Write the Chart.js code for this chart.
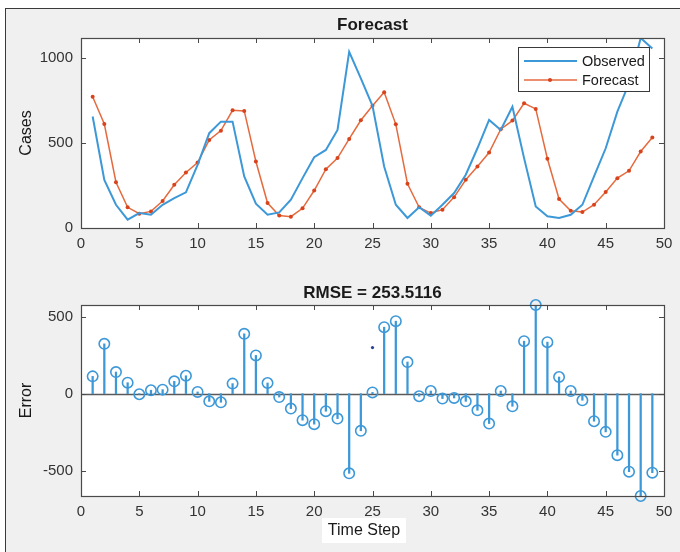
<!DOCTYPE html>
<html>
<head>
<meta charset="utf-8">
<script src="https://cdn.jsdelivr.net/npm/chart.js@4.4.1/dist/chart.umd.min.js"></script>
<style>
html,body{margin:0;padding:0;background:#fff;width:680px;height:552px;overflow:hidden;}
#frame{position:absolute;left:5px;top:8px;width:700px;height:560px;background:#f0f0f0;border-left:1.5px solid #3a3a3a;border-top:1.5px solid #3a3a3a;}
#c1{position:absolute;left:0;top:0;}
#c2{position:absolute;left:0;top:270px;}
</style>
</head>
<body>
<div id="frame"></div>
<canvas id="c1" width="680" height="270"></canvas>
<canvas id="c2" width="680" height="282"></canvas>
<script>
// ---------- data ----------
const timeSteps = [1,2,3,4,5,6,7,8,9,10,11,12,13,14,15,16,17,18,19,20,21,22,23,24,25,26,27,28,29,30,31,32,33,34,35,36,37,38,39,40,41,42,43,44,45,46,47,48,49];
const observed = [657,284,137,49,88,78,137,176,210,372,559,627,627,304,143,78,92,167,294,417,460,578,1039,882,720,363,137,59,122,73,137,206,314,470,637,578,715,412,127,69,59,78,137,304,470,686,853,1120,1058];
const forecast = [774,613,270,122,84,98,159,255,327,386,519,574,694,690,392,147,74,67,116,221,347,412,525,635,721,800,611,261,122,88,108,182,284,363,445,582,633,735,702,408,171,102,94,137,212,294,337,451,533];
const errors = [112,323,140,71,-4,22,26,80,116,11,-50,-56,65,388,248,69,-22,-97,-172,-198,-114,-162,-517,-241,8,431,470,205,-17,17,-32,-28,-50,-108,-194,17,-82,340,575,334,108,17,-43,-179,-248,-399,-506,-664,-513];
const strayX = [25];
const strayY = [299];
const xTicks = [0,5,10,15,20,25,30,35,40,45,50];
const casesTicks = [0,500,1000];
const errorTicks = [-500,0,500];
const seriesNames = ['Observed','Forecast'];
const topTitle = 'Forecast';
const rmseTitle = 'RMSE = 253.5116';
const xLabel = 'Time Step';

// ---------- styles ----------
const BLUE = '#3d98d8';
const RED = '#e56a3e';
const RED_DOT = '#d8431c';
const AXIS = '#4a4a4a';
const TXT = '#333333';
const FONT = '"Liberation Sans", Arial, Helvetica, sans-serif';

Chart.defaults.font.family = FONT;
Chart.defaults.color = TXT;

const pts = (xs, ys) => xs.map((x, i) => ({x: x, y: ys[i]}));

const panelPlugin = {
  id: 'panel',
  beforeDraw(chart, args, opts) {
    const {ctx, chartArea: a} = chart;
    ctx.save();
    ctx.fillStyle = '#ffffff';
    ctx.fillRect(a.left, a.top, a.right - a.left, a.bottom - a.top);
    ctx.restore();
  },
  beforeDatasetsDraw(chart, args, opts) {
    if (!opts.baseline) return;
    const {ctx, chartArea: a, scales} = chart;
    const y0 = Math.round(scales.y.getPixelForValue(0)) + 0.5;
    ctx.save();
    ctx.strokeStyle = '#5a5a5a';
    ctx.lineWidth = 1.5;
    ctx.beginPath();
    ctx.moveTo(a.left, y0);
    ctx.lineTo(a.right, y0);
    ctx.stroke();
    ctx.restore();
  },
  afterDraw(chart, args, opts) {
    const {ctx, chartArea: a, scales} = chart;
    ctx.save();
    // inward ticks
    ctx.strokeStyle = AXIS;
    ctx.lineWidth = 1;
    ctx.beginPath();
    scales.x.ticks.forEach(t => {
      const px = Math.round(scales.x.getPixelForValue(t.value)) + 0.5;
      ctx.moveTo(px, a.bottom); ctx.lineTo(px, a.bottom - 5);
      ctx.moveTo(px, a.top); ctx.lineTo(px, a.top + 5);
    });
    scales.y.ticks.forEach(t => {
      const py = Math.round(scales.y.getPixelForValue(t.value)) + 0.5;
      ctx.moveTo(a.left, py); ctx.lineTo(a.left + 5, py);
      ctx.moveTo(a.right, py); ctx.lineTo(a.right - 5, py);
    });
    ctx.stroke();
    // box
    ctx.lineWidth = 1.2;
    ctx.strokeStyle = AXIS;
    ctx.strokeRect(Math.round(a.left) + 0.5, Math.round(a.top) + 0.5, Math.round(a.right - a.left), Math.round(a.bottom - a.top));
    // title
    if (opts.title) {
      ctx.fillStyle = '#1a1a1a';
      ctx.font = 'bold 17px ' + FONT;
      ctx.textAlign = 'center';
      ctx.textBaseline = 'alphabetic';
      ctx.fillText(opts.title, (a.left + a.right) / 2, opts.titleY);
    }
    // x label with white patch
    if (opts.xlabel) {
      ctx.fillStyle = '#ffffff';
      ctx.fillRect(opts.xlabelX - 42, opts.xlabelY - 13, 84, 25);
      ctx.fillStyle = '#1a1a1a';
      ctx.font = '16px ' + FONT;
      ctx.textAlign = 'center';
      ctx.textBaseline = 'middle';
      ctx.fillText(opts.xlabel, opts.xlabelX, opts.xlabelY);
    }
    // legend
    if (opts.legend) {
      const L = opts.legend;
      ctx.fillStyle = '#ffffff';
      ctx.fillRect(L.x, L.y, L.w, L.h);
      ctx.strokeStyle = '#3a3a3a';
      ctx.lineWidth = 1;
      ctx.strokeRect(L.x + 0.5, L.y + 0.5, L.w, L.h);
      chart.data.datasets.forEach((ds, i) => {
        const yy = L.y + 14 + i * 19;
        ctx.strokeStyle = ds.borderColor;
        ctx.lineWidth = ds.borderWidth;
        ctx.beginPath();
        ctx.moveTo(L.x + 6, yy); ctx.lineTo(L.x + 59, yy);
        ctx.stroke();
        if (ds.pointRadius > 0) {
          ctx.fillStyle = ds.pointBackgroundColor;
          ctx.beginPath();
          ctx.arc(L.x + 32, yy, ds.pointRadius, 0, Math.PI * 2);
          ctx.fill();
        }
        ctx.fillStyle = '#1a1a1a';
        ctx.font = '14.5px ' + FONT;
        ctx.textAlign = 'left';
        ctx.textBaseline = 'middle';
        ctx.fillText(ds.label, L.x + 64, yy + 1);
      });
    }
    ctx.restore();
  }
};

const plainNum = v => String(v);

function xScale() {
  return {
    type: 'linear',
    min: 0, max: 50,
    offset: false,
    afterBuildTicks: s => { s.ticks = xTicks.map(v => ({value: v})); },
    afterFit: s => { s.height = 30; },
    grid: {display: false, drawTicks: false, offset: false},
    border: {display: false},
    ticks: {padding: 7, font: {size: 15}, color: TXT, maxRotation: 0, autoSkip: false, callback: plainNum}
  };
}

function yScale(min, max, tickVals, title) {
  return {
    type: 'linear',
    min: min, max: max,
    afterBuildTicks: s => { s.ticks = tickVals.map(v => ({value: v})); },
    afterFit: s => { s.width = 81; },
    grid: {display: false, drawTicks: false},
    border: {display: false},
    ticks: {padding: 8, font: {size: 15}, color: TXT, callback: plainNum},
    title: {display: true, text: title, font: {size: 16}, color: '#1a1a1a', padding: {top: 17, bottom: 0}}
  };
}

// ---------- top chart ----------
new Chart(document.getElementById('c1'), {
  type: 'line',
  data: {
    datasets: [
      {label: seriesNames[0], data: pts(timeSteps, observed), borderColor: BLUE, borderWidth: 2, pointRadius: 0, tension: 0, fill: false},
      {label: seriesNames[1], data: pts(timeSteps, forecast), borderColor: RED, borderWidth: 1.5, pointRadius: 2, pointBackgroundColor: RED_DOT, pointBorderWidth: 0, tension: 0, fill: false}
    ]
  },
  options: {
    responsive: false,
    animation: false,
    events: [],
    layout: {padding: {top: 38, right: 16, bottom: 12, left: 0}},
    scales: {
      x: xScale(),
      y: yScale(0, Math.max(...observed), casesTicks, 'Cases')
    },
    plugins: {
      legend: {display: false},
      tooltip: {enabled: false},
      panel: {title: topTitle, titleY: 30, legend: {x: 518, y: 47, w: 131, h: 44}}
    }
  },
  plugins: [panelPlugin]
});

// ---------- bottom chart ----------
new Chart(document.getElementById('c2'), {
  type: 'bar',
  data: {
    datasets: [
      {type: 'scatter', label: 'ErrorMarkers', data: pts(timeSteps, errors), clip: false, pointRadius: 5.2, pointStyle: 'circle', borderColor: BLUE, borderWidth: 1.6, backgroundColor: 'rgba(0,0,0,0)', pointBackgroundColor: 'rgba(0,0,0,0)'},
      {type: 'scatter', label: 'Stray', data: pts(strayX, strayY), pointRadius: 1.6, borderWidth: 0, backgroundColor: '#2a3f9a', pointBackgroundColor: '#2a3f9a'},
      {type: 'bar', label: 'Error', data: pts(timeSteps, errors), backgroundColor: BLUE, barThickness: 1.6, borderWidth: 0}
    ]
  },
  options: {
    responsive: false,
    animation: false,
    events: [],
    layout: {padding: {top: 35, right: 16, bottom: 26, left: 0}},
    scales: {
      x: xScale(),
      y: yScale(Math.min(...errors), Math.max(...errors), errorTicks, 'Error')
    },
    plugins: {
      legend: {display: false},
      tooltip: {enabled: false},
      panel: {title: rmseTitle, titleY: 28, baseline: true, xlabel: xLabel, xlabelX: 364, xlabelY: 261}
    }
  },
  plugins: [panelPlugin]
});
</script>
</body>
</html>
